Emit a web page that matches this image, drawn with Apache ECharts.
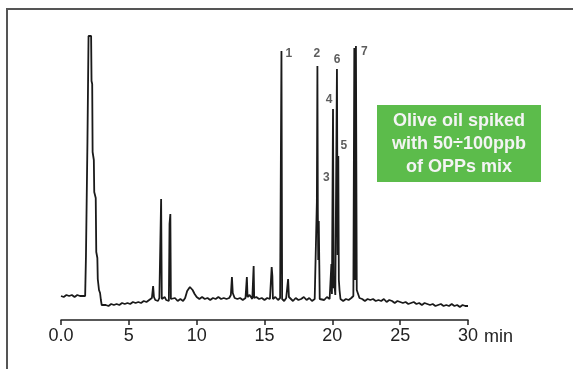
<!DOCTYPE html>
<html>
<head>
<meta charset="utf-8">
<script src="https://cdn.jsdelivr.net/npm/echarts@6/dist/echarts.min.js"></script>
<style>
  html, body { margin: 0; padding: 0; background: #fff; }
  #chart { width: 573px; height: 369px; }
</style>
</head>
<body>
<div id="chart"></div>
<script>
// retention time (min) and detector signal
var traceTime = [
  0.0, 0.1, 0.2, 0.3, 0.4, 0.5, 0.6, 0.7, 0.8, 0.9, 1.0, 1.1, 1.2, 1.3, 1.4, 1.5, 1.6, 1.7, 1.78,
  1.82, 1.84, 1.92, 1.95, 2.0, 2.03, 2.22, 2.25, 2.3, 2.33, 2.42, 2.45, 2.56, 2.6, 2.68, 2.71, 2.8, 2.88, 2.94,
  3.0, 3.1, 3.3, 3.5, 3.7, 3.9, 4.1, 4.3, 4.5, 4.7, 4.9, 5.1, 5.3, 5.5, 5.7, 5.9, 6.1, 6.3, 6.5, 6.7,
  6.79, 6.85, 6.95, 7.05, 7.15, 7.25, 7.33, 7.38, 7.43, 7.55, 7.65, 7.75, 7.85, 7.95, 8.0, 8.06, 8.1,
  8.2, 8.4, 8.6, 8.8, 9.0, 9.15, 9.3, 9.5, 9.7, 9.85, 10.0, 10.2, 10.4, 10.6, 10.8, 11.0, 11.2, 11.4,
  11.6, 11.8, 12.0, 12.2, 12.4, 12.52, 12.6, 12.66, 12.8, 13.0, 13.2, 13.4, 13.6, 13.65, 13.7, 13.75,
  13.9, 14.1, 14.16, 14.2, 14.24, 14.4, 14.6, 14.8, 15.0, 15.2, 15.4, 15.5, 15.53, 15.58, 15.62, 15.8,
  16.0, 16.15, 16.25, 16.3, 16.45, 16.6, 16.7, 16.74, 16.8, 16.95, 17.1, 17.3, 17.5, 17.7, 17.9, 18.1,
  18.3, 18.5, 18.7, 18.84, 18.86, 18.9, 18.93, 18.96, 19.0, 19.04, 19.07, 19.2, 19.4, 19.6, 19.8, 19.9,
  19.93, 19.97, 20.05, 20.1, 20.15, 20.22, 20.28, 20.34, 20.39, 20.44, 20.48, 20.53, 20.6, 20.8, 21.0,
  21.2, 21.4, 21.55, 21.62, 21.67, 21.74, 21.8, 21.9, 22.0, 22.2, 22.4, 22.6, 22.8, 23.0, 23.2, 23.4,
  23.6, 23.8, 24.0, 24.2, 24.4, 24.6, 24.8, 25.0, 25.2, 25.4, 25.6, 25.8, 26.0, 26.2, 26.4, 26.6, 26.8,
  27.0, 27.2, 27.4, 27.6, 27.8, 28.0, 28.2, 28.4, 28.6, 28.8, 29.0, 29.2, 29.4, 29.6, 29.8, 30.0
];
var traceSignal = [
  24, 25, 23, 24, 25, 23, 24, 23, 25, 24, 23, 24, 25, 23, 24, 23, 24, 23, 24,
  26, 64, 66, 179, 180, 284, 284, 239, 236, 168, 160, 128, 122, 68, 62, 41, 30, 27, 20,
  15, 13, 15, 14, 16, 15, 16, 15, 17, 16, 17, 16, 18, 17, 18, 17, 19, 18, 20, 22,
  34, 23, 20, 22, 19, 22, 20, 121, 21, 19, 23, 20, 21, 19, 96, 106, 21,
  19, 22, 19, 21, 19, 22, 29, 33, 30, 26, 23, 21, 23, 21, 22, 20, 22, 21,
  23, 21, 22, 21, 22, 25, 43, 27, 22, 21, 22, 20, 22, 21, 43, 23,
  25, 21, 23, 54, 22, 23, 21, 22, 20, 22, 21, 22, 53, 44, 21, 23,
  20, 22, 269, 21, 19, 22, 21, 41, 23, 21, 19, 22, 20, 21, 23, 20,
  22, 19, 21, 20, 118, 254, 110, 60, 99, 55, 21, 22, 20, 23, 21, 22,
  56, 26, 211, 32, 36, 25, 27, 251, 65, 164, 40, 30, 21, 19, 21,
  20, 22, 24, 272, 40, 274, 30, 26, 22, 21, 19, 21, 20, 21, 19, 20,
  19, 21, 18, 20, 19, 17, 19, 18, 17, 18, 16, 17, 18, 16, 17, 15, 17,
  16, 15, 16, 14, 15, 16, 14, 15, 14, 16, 14, 15, 13, 15, 14, 14
];

// peak numbers and where their labels sit
var peakNames = ['1', '2', '3', '4', '5', '6', '7'];
var peakLabelTime = [16.8, 18.85, 19.55, 19.76, 20.84, 20.35, 22.35];
var peakLabelSignal = [266, 266, 142, 220, 174, 260, 268];

var boxText = 'Olive oil spiked\nwith 50\u00f7100ppb\nof OPPs mix';

var trace = traceTime.map(function (t, i) { return [t, traceSignal[i]]; });
var labels = peakNames.map(function (n, i) { return { name: n, value: [peakLabelTime[i], peakLabelSignal[i]] }; });

var chart = echarts.init(document.getElementById('chart'));
var option = {
  backgroundColor: '#ffffff',
  animation: false,
  grid: { left: 61, right: 105, top: 20, bottom: 49 },
  xAxis: {
    type: 'value',
    min: 0,
    max: 30,
    interval: 5,
    name: 'min',
    nameLocation: 'end',
    nameGap: 9,
    nameTextStyle: {
      color: '#222', fontSize: 18, fontFamily: 'Liberation Sans',
      verticalAlign: 'top', align: 'left', padding: [8, 0, 0, 0]
    },
    axisLine: { lineStyle: { color: '#222', width: 1.5 } },
    axisTick: { length: 5, lineStyle: { color: '#222', width: 1.5 } },
    axisLabel: {
      color: '#222', fontSize: 18, fontFamily: 'Liberation Sans', margin: 7,
      formatter: function (v) { return v === 0 ? '0.0' : String(v); }
    },
    splitLine: { show: false }
  },
  yAxis: {
    type: 'value',
    min: 0,
    max: 300,
    show: false
  },
  graphic: [
    {
      type: 'rect',
      shape: { x: 7, y: 9, width: 620, height: 420 },
      style: { fill: 'none', stroke: '#555', lineWidth: 2 },
      silent: true
    },
    {
      type: 'rect',
      shape: { x: 377, y: 105, width: 164, height: 77 },
      style: { fill: '#5cbc4b' },
      silent: true
    },
    {
      type: 'text',
      x: 459,
      y: 144,
      style: {
        text: boxText,
        fill: '#f4f4f4',
        font: 'bold 18px "Liberation Sans"',
        lineHeight: 23,
        align: 'center',
        verticalAlign: 'middle'
      },
      silent: true
    }
  ],
  series: [
    {
      type: 'line',
      data: trace,
      symbol: 'none',
      lineStyle: { color: '#1a1a1a', width: 1.8 }
    },
    {
      type: 'scatter',
      data: labels,
      symbolSize: 0,
      label: {
        show: true,
        position: 'inside',
        formatter: '{b}',
        color: '#333',
        fontSize: 12,
        fontWeight: 'bold',
        fontFamily: 'Liberation Sans'
      }
    }
  ]
};
chart.setOption(option);
</script>
</body>
</html>
